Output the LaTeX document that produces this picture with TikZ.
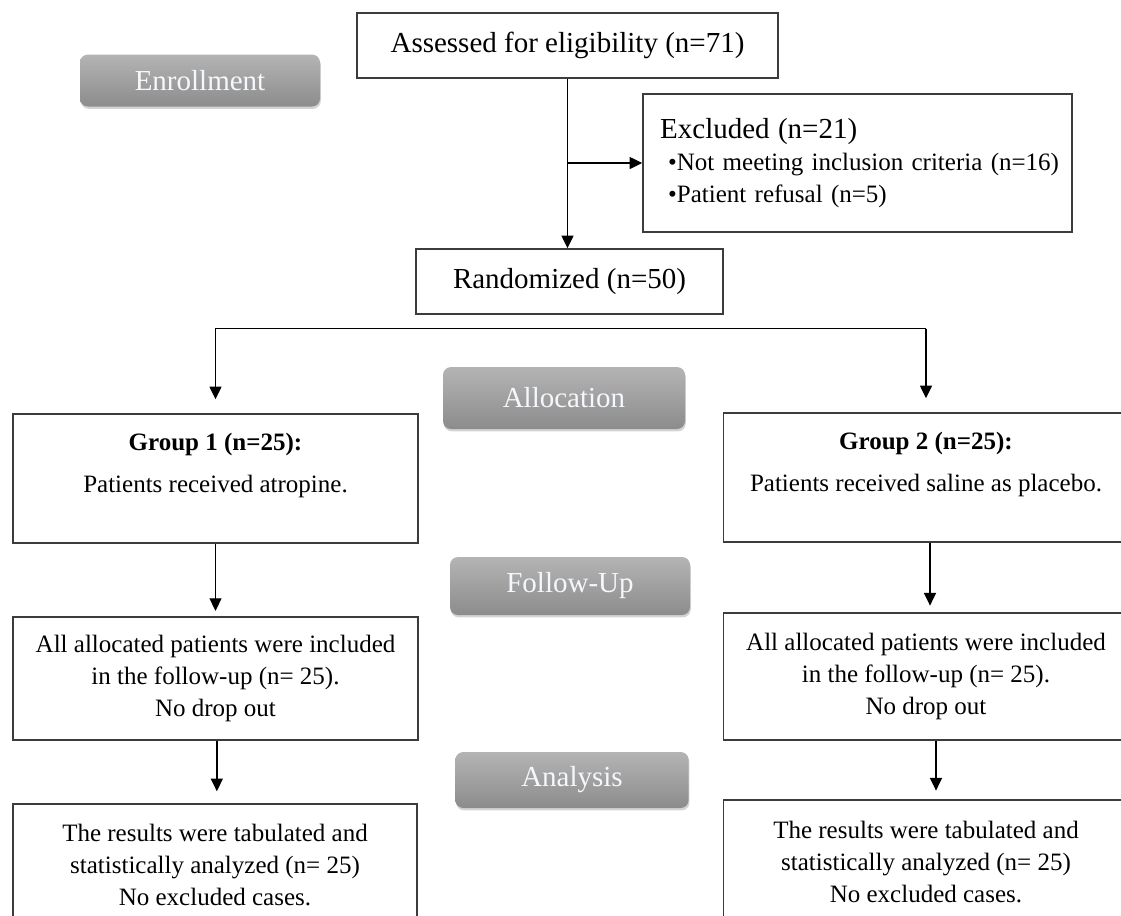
\documentclass[tikz,border=0pt]{standalone}
\usepackage{fontspec}
\setmainfont{Liberation Serif}
\usetikzlibrary{positioning,arrows.meta,shadows,calc}
\definecolor{ctLine}{HTML}{3C3C3C}
\definecolor{ctBtnTop}{HTML}{B4B4B4}
\definecolor{ctBtnBot}{HTML}{8C8C8C}
\definecolor{ctBtnText}{HTML}{F4F7FB}
\tikzset{
  ct-box/.style={
    draw=ctLine, line width=1.1pt, fill=white, align=center,
    font=\fontsize{18.75}{24}\selectfont, inner sep=0pt
  },
  ct-big/.style={ct-box, font=\fontsize{21.75}{26}\selectfont},
  ct-arm/.style={ct-box, minimum width=304pt},
  ct-txt/.style={align=center, inner sep=0pt, font=\fontsize{18.75}{24}\selectfont},
  ct-phase/.style={
    rounded corners=6pt, top color=ctBtnTop, bottom color=ctBtnBot,
    text=ctBtnText, font=\fontsize{21.75}{26}\selectfont,
    minimum width=180pt, minimum height=43pt,
    drop shadow={shadow xshift=0.6pt, shadow yshift=-1.8pt, opacity=0.35}
  },
  ct-flow/.style={-{Triangle[width=9pt,length=9.5pt]}, line width=1pt, draw=black}
}
\begin{document}
\begin{tikzpicture}[x=0.75pt, y=-0.75pt]
\path[use as bounding box] (0,0) rectangle (1121,915);
\clip (0,0) rectangle (1121,915);

\node[ct-big, minimum width=315.75pt, minimum height=48.75pt] (assess) at (567.5,45.5)
  {Assessed for eligibility (n=71)};
\node[ct-box, minimum width=321.75pt, minimum height=103.5pt, text width=305pt,
  align=left] (excl) at (857.5,163)
  {\hspace*{4.5pt}{\fontsize{21.75}{26}\selectfont Excluded (n=21)}\\
  \hspace*{10.5pt}•Not meeting inclusion criteria (n=16)\\
  \hspace*{10.5pt}•Patient refusal (n=5)};
\node[ct-big, minimum width=230.25pt, minimum height=48.75pt] (rand) at (569.5,281.5)
  {Randomized (n=50)};

\node[ct-arm, minimum height=96.75pt] (g1) at (215.5,478.5) {};
\node[ct-txt, below=15pt of g1.north] (g1txt)
  {\textbf{Group 1 (n=25):}\\[7.5pt]Patients received atropine.};
\node[ct-arm, minimum height=96.75pt] (g2) at (926,477.5) {};
\node[ct-txt, below=15pt of g2.north] (g2txt)
  {\textbf{Group 2 (n=25):}\\[7.5pt]Patients received saline as placebo.};

\node[ct-arm, minimum height=92.25pt] (f1) at (215.5,678.5)
  {All allocated patients were included\\in the follow-up (n= 25).\\No drop out};
\node[ct-arm, minimum height=95.25pt] (f2) at (926,676.5)
  {All allocated patients were included\\in the follow-up (n= 25).\\No drop out};

\node[ct-arm, minimum width=303pt, minimum height=91.5pt] (a1) at (215,865)
  {The results were tabulated and\\statistically analyzed (n= 25)\\No excluded cases.};
\node[ct-arm, minimum height=93pt] (a2) at (926,862)
  {The results were tabulated and\\statistically analyzed (n= 25)\\No excluded cases.};

\node[ct-phase, minimum height=39pt] (enroll) at (200,80.5) {Enrollment};
\node[ct-phase, minimum width=181.5pt, minimum height=46.5pt] (alloc) at (564,398) {Allocation};
\node[ct-phase, minimum height=43.5pt] (follow) at (570,586) {Follow-Up};
\node[ct-phase, minimum width=175pt, minimum height=42pt] (analysis) at (572,780) {Analysis};

\coordinate (split) at ($(rand.south)+(0,14)$);
\draw[ct-flow] (assess.south) -- (assess.south |- rand.north);
\draw[ct-flow] (assess.south |- excl.west) -- (excl.west);
\draw[ct-flow, shorten >=10.5pt] (g2.north |- split) -- (g1.north |- split) -- (g1.north);
\draw[ct-flow, shorten >=10.5pt] (g2.north |- split) -- (g2.north);
\draw[ct-flow, shorten >=4pt] (g1.south) -- (f1.north);
\draw[ct-flow, shorten >=5pt] ([xshift=3pt]g2.south) -- ([xshift=3pt]g2.south |- f2.north);
\draw[ct-flow, shorten >=9pt] ([xshift=1pt]f1.south) -- ([xshift=1pt]f1.south |- a1.north);
\draw[ct-flow, shorten >=6.5pt] ([xshift=7.5pt]f2.south) -- ([xshift=7.5pt]f2.south |- a2.north);
\end{tikzpicture}
\end{document}
